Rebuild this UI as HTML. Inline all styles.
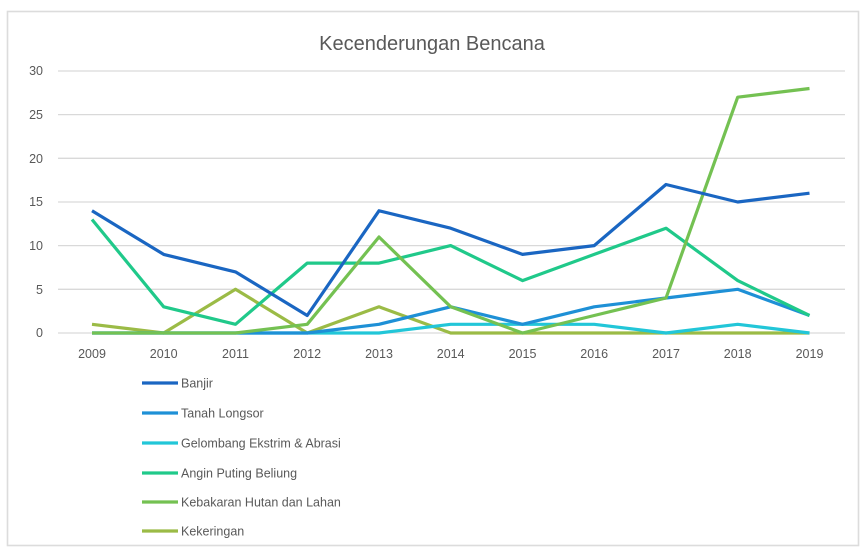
<!DOCTYPE html>
<html><head><style>
body{margin:0;background:#fff;}
</style></head><body>
<svg width="868" height="555" xmlns="http://www.w3.org/2000/svg" font-family="Liberation Sans, sans-serif">
<rect x="7.5" y="11.5" width="851" height="534" fill="#fff" stroke="#dcdcdc" stroke-width="1.6"/>
<text x="432" y="50" font-size="20" fill="#595959" text-anchor="middle">Kecenderungan Bencana</text>
<g stroke="#d9d9d9" stroke-width="1.3">
<line x1="58" x2="845" y1="71" y2="71"/><line x1="58" x2="845" y1="114.6" y2="114.6"/>
<line x1="58" x2="845" y1="158.3" y2="158.3"/><line x1="58" x2="845" y1="202" y2="202"/>
<line x1="58" x2="845" y1="245.6" y2="245.6"/><line x1="58" x2="845" y1="289.3" y2="289.3"/>
<line x1="58" x2="845" y1="333" y2="333"/>
</g>
<g font-size="12.5" fill="#595959" text-anchor="end">
<text x="43" y="75">30</text><text x="43" y="119">25</text><text x="43" y="163">20</text>
<text x="43" y="206">15</text><text x="43" y="250">10</text><text x="43" y="294">5</text><text x="43" y="337">0</text>
</g>
<g font-size="12.5" fill="#595959" text-anchor="middle">
<text x="92" y="358">2009</text><text x="163.7" y="358">2010</text><text x="235.5" y="358">2011</text>
<text x="307.2" y="358">2012</text><text x="379" y="358">2013</text><text x="450.7" y="358">2014</text>
<text x="522.5" y="358">2015</text><text x="594.2" y="358">2016</text><text x="666" y="358">2017</text>
<text x="737.7" y="358">2018</text><text x="809.5" y="358">2019</text>
</g>
<g fill="none" stroke-width="3.2" stroke-linejoin="round">
<polyline stroke="#9bbb46" points="92,324.3 163.7,333 235.5,289.3 307.2,333 379,306.8 450.7,333 522.5,333 594.2,333 666,333 737.7,333 809.5,333"/>
<polyline stroke="#22c6d8" points="92,333 163.7,333 235.5,333 307.2,333 379,333 450.7,324.3 522.5,324.3 594.2,324.3 666,333 737.7,324.3 809.5,333"/>
<polyline stroke="#1e90d6" points="92,333 163.7,333 235.5,333 307.2,333 379,324.3 450.7,306.8 522.5,324.3 594.2,306.8 666,298 737.7,289.3 809.5,315.5"/>
<polyline stroke="#20c98a" points="92,219.5 163.7,306.8 235.5,324.3 307.2,263.1 379,263.1 450.7,245.6 522.5,280.6 594.2,254.4 666,228.2 737.7,280.6 809.5,315.5"/>
<polyline stroke="#74c152" points="92,333 163.7,333 235.5,333 307.2,324.3 379,237 450.7,306.8 522.5,333 594.2,315.5 666,298 737.7,97.2 809.5,88.5"/>
<polyline stroke="#1a66c2" points="92,210.8 163.7,254.4 235.5,271.9 307.2,315.5 379,210.8 450.7,228.2 522.5,254.4 594.2,245.6 666,184.5 737.7,202 809.5,193.2"/>
</g>
<g stroke-width="3.2">
<line x1="142" x2="178" y1="383" y2="383" stroke="#1a66c2"/>
<line x1="142" x2="178" y1="413" y2="413" stroke="#1e90d6"/>
<line x1="142" x2="178" y1="443" y2="443" stroke="#22c6d8"/>
<line x1="142" x2="178" y1="473" y2="473" stroke="#20c98a"/>
<line x1="142" x2="178" y1="502" y2="502" stroke="#74c152"/>
<line x1="142" x2="178" y1="531" y2="531" stroke="#9bbb46"/>
</g>
<g font-size="12.5" fill="#595959">
<text x="181" y="387.5">Banjir</text>
<text x="181" y="417.5">Tanah Longsor</text>
<text x="181" y="447.5">Gelombang Ekstrim &amp; Abrasi</text>
<text x="181" y="477.5">Angin Puting Beliung</text>
<text x="181" y="506.5">Kebakaran Hutan dan Lahan</text>
<text x="181" y="535.5">Kekeringan</text>
</g>
</svg>
</body></html>
